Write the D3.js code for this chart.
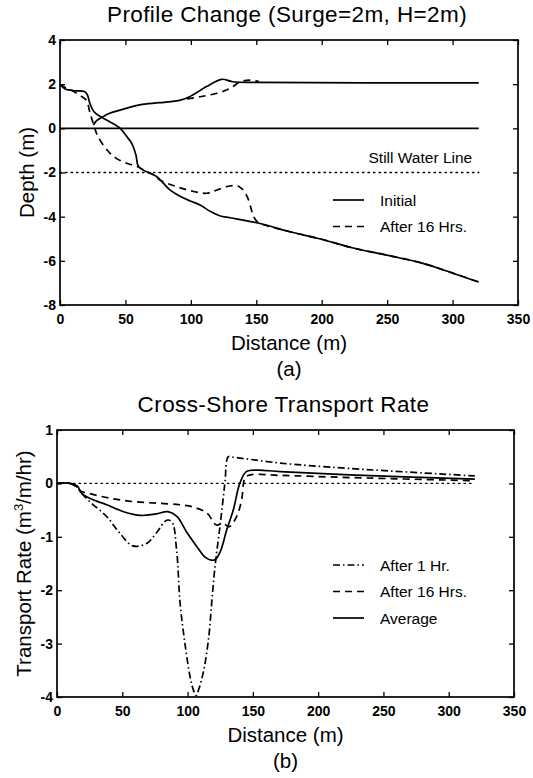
<!DOCTYPE html>
<html>
<head>
<meta charset="utf-8">
<script src="https://cdn.jsdelivr.net/npm/d3@7"></script>
<style>
  html, body { margin: 0; padding: 0; background: #fff; }
  svg { display: block; font-family: "Liberation Sans", Arial, sans-serif; }
</style>
</head>
<body>
<svg id="chart" width="533" height="778"></svg>
<script>
// ---------------- DATA ----------------
const distanceTicks = [0, 50, 100, 150, 200, 250, 300, 350];
const depthTicks = [-8, -6, -4, -2, 0, 2, 4];
const rateTicks = [-4, -3, -2, -1, 0, 1];

// Panel (a): profile change
const initialProfile = [[0,2.0],[4,1.78],[12,1.7],[19,1.66],[21,1.5],[23,1.1],[26,0.75],[31,0.53],[38,0.3],[46,0],[51,-0.37],[55,-0.7],[58,-1.2],[60,-1.73],[66,-1.96],[74,-2.19],[84,-2.79],[92,-3.09],[100,-3.3],[107,-3.47],[115,-3.77],[122,-3.96],[130,-4.05],[152,-4.3],[175,-4.67],[199,-5.01],[224,-5.42],[248,-5.72],[276,-6.09],[292,-6.39],[320,-6.96]];
const afterProfile = [[0,2.0],[4,1.85],[8,1.75],[15,1.5],[20,1.28],[23,0.68],[25.5,0.2],[29,-0.37],[36,-0.98],[43,-1.36],[51,-1.58],[59,-1.73],[66,-1.96],[72,-2.12],[76,-2.33],[89,-2.64],[102,-2.86],[112,-2.94],[120,-2.79],[130,-2.61],[137,-2.64],[143,-3.09],[148,-4.0],[151,-4.25],[153,-4.32],[175,-4.67],[199,-5.01],[224,-5.42],[248,-5.72],[276,-6.09],[292,-6.39],[320,-6.96]];
const waterInitial = [[25.5,0.15],[28,0.35],[32,0.5],[38,0.68],[48,0.86],[61,1.06],[76,1.16],[92,1.28],[99,1.43],[112,1.89],[123.5,2.22],[132,2.11],[150,2.08],[320,2.06]];
const waterAfter = [[97,1.33],[107,1.43],[120,1.59],[130,1.81],[137.6,2.1],[145,2.18],[152,2.12]];
const zeroLineA = [[0,0],[320,0]];
const stillWaterLine = [[0,-2],[320,-2]];

// Panel (b): transport rate
const rateAfter1 = [[0,0],[5,0.01],[10,0],[16,-0.08],[18,-0.16],[25,-0.34],[38,-0.62],[48,-0.93],[58,-1.17],[69,-1.12],[76,-0.93],[84,-0.69],[88,-0.72],[91.6,-1.25],[94.3,-2.25],[98,-3.0],[102,-3.63],[104.6,-3.88],[106.5,-3.97],[108.5,-3.86],[112.4,-3.5],[116.2,-2.88],[118.6,-2.2],[121,-1.56],[124.8,-0.81],[127.4,-0.25],[128.7,0.03],[131.2,0.5],[135,0.49],[148,0.45],[171,0.38],[224,0.28],[320,0.14]];
const rateAfter16 = [[0,0],[5,0.01],[10,0],[16,-0.08],[18,-0.14],[25,-0.19],[41,-0.28],[58,-0.34],[76,-0.37],[94,-0.40],[104,-0.44],[115,-0.56],[122,-0.78],[127,-0.75],[132,-0.81],[137.6,-0.62],[141.4,-0.31],[144,0.1],[148,0.16],[171,0.15],[224,0.11],[320,0.05]];
const rateAverage = [[0,0],[5,0.01],[10,0],[16,-0.06],[18,-0.16],[25,-0.28],[38,-0.40],[51,-0.53],[64,-0.6],[76,-0.57],[85,-0.53],[92,-0.62],[99,-0.9],[107,-1.18],[113,-1.37],[117,-1.43],[121,-1.43],[125,-1.28],[130,-0.87],[135,-0.5],[140,0],[145,0.22],[153,0.25],[171,0.22],[224,0.16],[320,0.08]];
const zeroLineB = [[0,0],[320,0]];

// ---------------- DRAWING ----------------
const svg = d3.select("#chart");
const DASH = "7,5", DOT = "1.5,4", DASHDOT = "7,3,1.5,3";

function panel(cfg) {
  const x = d3.scaleLinear().domain([0, 350]).range([cfg.left, cfg.right]);
  const y = d3.scaleLinear().domain(cfg.yDomain).range([cfg.bottom, cfg.top]);
  const g = svg.append("g");
  const tl = 5;

  g.append("g").attr("transform", `translate(0,${cfg.bottom})`)
    .call(d3.axisBottom(x).tickValues(distanceTicks).tickSizeInner(-tl).tickSizeOuter(0).tickPadding(9))
    .call(a => a.select(".domain").remove());
  g.append("g").attr("transform", `translate(0,${cfg.top})`)
    .call(d3.axisTop(x).tickValues(distanceTicks).tickSizeInner(-tl).tickSizeOuter(0).tickFormat(""))
    .call(a => a.select(".domain").remove());
  g.append("g").attr("transform", `translate(${cfg.left},0)`)
    .call(d3.axisLeft(y).tickValues(cfg.yTicks).tickSizeInner(-tl).tickSizeOuter(0).tickPadding(4).tickFormat(d => d < 0 ? "-" + Math.abs(d) : d))
    .call(a => a.select(".domain").remove());
  g.append("g").attr("transform", `translate(${cfg.right},0)`)
    .call(d3.axisRight(y).tickValues(cfg.yTicks).tickSizeInner(-tl).tickSizeOuter(0).tickFormat(""))
    .call(a => a.select(".domain").remove());
  g.selectAll(".tick line").attr("stroke", "#000").attr("stroke-width", 1.3);
  g.selectAll(".tick text").attr("font-size", 14).attr("font-weight", "bold")
    .attr("font-family", '"Liberation Sans", Arial, sans-serif').attr("fill", "#000");

  g.append("rect").attr("x", cfg.left).attr("y", cfg.top)
    .attr("width", cfg.right - cfg.left).attr("height", cfg.bottom - cfg.top)
    .attr("fill", "none").attr("stroke", "#000").attr("stroke-width", 1.7);

  const line = d3.line().x(d => x(d[0])).y(d => y(d[1])).curve(d3.curveCatmullRom.alpha(0.5));
  cfg.series.forEach(s => {
    g.append("path").datum(s.data).attr("d", line)
      .attr("fill", "none").attr("stroke", "#000")
      .attr("stroke-width", s.w || 1.7)
      .attr("stroke-dasharray", s.dash || null)
      .attr("stroke-linecap", s.dash === DOT ? "round" : "butt");
  });

  svg.append("text").attr("x", (cfg.left + cfg.right) / 2 - 2).attr("y", cfg.top - 18)
    .attr("text-anchor", "middle").attr("font-size", 22.5).attr("letter-spacing", 0.4).text(cfg.title);
  svg.append("text").attr("x", (cfg.left + cfg.right) / 2).attr("y", cfg.bottom + 45)
    .attr("text-anchor", "middle").attr("font-size", 20.5).text("Distance (m)");
  svg.append("text").attr("x", (cfg.left + cfg.right) / 2).attr("y", cfg.bottom + 71)
    .attr("text-anchor", "middle").attr("font-size", 20.5).text(cfg.sub);
  const yl = svg.append("text")
    .attr("transform", `translate(${cfg.left - 26},${(cfg.top + cfg.bottom) / 2}) rotate(-90)`)
    .attr("text-anchor", "middle").attr("font-size", 20.5);
  cfg.ylabel(yl);

  cfg.legend.forEach((l, i) => {
    const ly = cfg.legendY + i * 26.5;
    g.append("line").attr("x1", 333).attr("x2", 364).attr("y1", ly).attr("y2", ly)
      .attr("stroke", "#000").attr("stroke-width", 1.7).attr("stroke-dasharray", l.dash || null);
    g.append("text").attr("x", 380).attr("y", ly + 5.5).attr("font-size", 15.5).text(l.label);
  });
  return { x, y, g };
}

const A = panel({
  left: 60, right: 518, top: 40, bottom: 305,
  yDomain: [-8, 4], yTicks: depthTicks,
  title: "Profile Change (Surge=2m, H=2m)", sub: "(a)",
  ylabel: t => t.text("Depth (m)"),
  series: [
    { data: zeroLineA },
    { data: stillWaterLine, dash: DOT, w: 1.3 },
    { data: initialProfile },
    { data: afterProfile, dash: DASH },
    { data: waterInitial },
    { data: waterAfter, dash: DASH }
  ],
  legendY: 200,
  legend: [{ label: "Initial" }, { label: "After 16 Hrs.", dash: DASH }]
});
A.g.append("text").attr("x", A.x(315)).attr("y", A.y(-2) - 10)
  .attr("text-anchor", "end").attr("font-size", 15.5).text("Still Water Line");

panel({
  left: 57, right: 514, top: 430, bottom: 697,
  yDomain: [-4, 1], yTicks: rateTicks,
  title: "Cross-Shore Transport Rate", sub: "(b)",
  ylabel: t => {
    t.append("tspan").text("Transport Rate (m");
    t.append("tspan").attr("font-size", 13).attr("dy", -8).text("3");
    t.append("tspan").attr("dy", 8).text("/m/hr)");
  },
  series: [
    { data: zeroLineB, dash: DOT, w: 1.3 },
    { data: rateAfter1, dash: DASHDOT },
    { data: rateAfter16, dash: DASH },
    { data: rateAverage }
  ],
  legendY: 565,
  legend: [{ label: "After 1 Hr.", dash: DASHDOT }, { label: "After 16 Hrs.", dash: DASH }, { label: "Average" }]
});
</script>
</body>
</html>
